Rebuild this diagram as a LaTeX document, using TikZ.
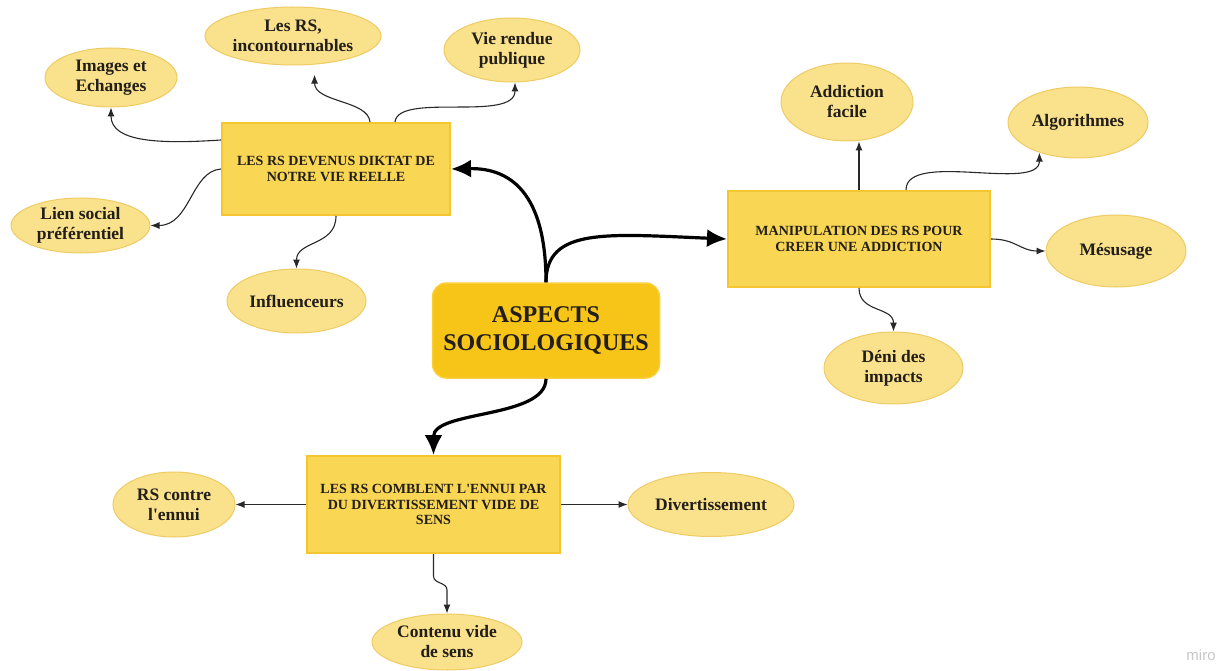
\documentclass[tikz,border=0pt]{standalone}
\usepackage{fontspec}
\setmainfont{Liberation Serif}
\newfontfamily\mirofont{Liberation Sans}
\usetikzlibrary{shapes.geometric,arrows.meta}
\definecolor{ellfill}{RGB}{250,225,140}
\definecolor{elldraw}{RGB}{238,203,100}
\definecolor{boxfill}{RGB}{249,214,84}
\definecolor{boxdraw}{RGB}{244,198,48}
\definecolor{cenfill}{RGB}{247,196,24}
\definecolor{cendraw}{RGB}{250,206,60}
\definecolor{txt}{RGB}{34,30,25}
\definecolor{wire}{RGB}{40,40,40}
\begin{document}
\begin{tikzpicture}[x=1pt,y=-1pt,
 bubble/.style={ellipse, draw=elldraw, fill=ellfill, line width=1pt, inner sep=0pt, align=center, text=txt, font=\fontsize{17.5}{20}\selectfont\bfseries},
 topic/.style={rectangle, draw=boxdraw, fill=boxfill, line width=2pt, inner sep=0pt, align=center, text=txt, font=\fontsize{14}{15.5}\selectfont\bfseries},
 hub/.style={rectangle, rounded corners=14pt, draw=cendraw, fill=cenfill, line width=1.5pt, inner sep=0pt, align=center, text=txt, font=\fontsize{24}{28}\selectfont\bfseries},
 sz/.style 2 args={minimum width=#1pt, minimum height=#2pt},
 thinarrow/.style={draw=wire, line width=1.1pt, -{Latex[length=9pt,width=7pt]}},
 thickarrow/.style={draw=black, line width=3.2pt, -{Latex[length=20pt,width=18pt]}}
]
\fill[white] (0,0) rectangle (1223,671);
\useasboundingbox (0,0) rectangle (1223,671);

% hub and topics
\node[hub, sz={227}{95}] (c) at (546,330.5) {ASPECTS\\SOCIOLOGIQUES};
\node[topic, sz={228}{92}] (b1) at (336,169) {LES RS DEVENUS DIKTAT DE\\NOTRE VIE REELLE};
\node[topic, sz={262}{96}] (b2) at (859,239) {MANIPULATION DES RS POUR\\CREER UNE ADDICTION};
\node[topic, sz={253}{97}] (b3) at (433.5,504.5) {LES RS COMBLENT L\textquotesingle ENNUI PAR\\DU DIVERTISSEMENT VIDE DE\\SENS};

% leaves
\node[bubble, sz={132}{59}] (imgs) at (111,77.5) {Images et\\Echanges};
\node[bubble, sz={176}{58}] (lesrs) at (293,36) {Les RS,\\incontournables};
\node[bubble, sz={136}{64}] (vie) at (512,50) {Vie rendue\\publique};
\node[bubble, sz={139}{55}] (lien) at (80.5,225.5) {Lien social\\préférentiel};
\node[bubble, sz={139}{64}] (infl) at (296.5,301) {Influenceurs};
\node[bubble, sz={132}{78}] (addf) at (847,102) {Addiction\\facile};
\node[bubble, sz={140}{71}] (algo) at (1078,122.5) {Algorithmes};
\node[bubble, sz={140}{72}] (mes) at (1116,251) {Mésusage};
\node[bubble, sz={139}{72}] (deni) at (893.5,368) {Déni des\\impacts};
\node[bubble, sz={122}{65}] (rsc) at (174,504.5) {RS contre\\l\textquotesingle ennui};
\node[bubble, sz={166}{64}] (div) at (711,504.5) {Divertissement};
\node[bubble, sz={150}{56}] (cont) at (447,642) {Contenu vide\\de sens};

% thick connectors
\draw[thickarrow] (c.north) .. controls +(0,-100) and +(50,-1) .. (b1.east);
\draw[thickarrow] (c.north) .. controls +(0,-55) and +(-120,-5) .. (b2.west);
\draw[thickarrow] (c.south) .. controls +(0,40) and +(0,-45) .. (b3.north);

% connectors of topic 1
\draw[thinarrow] ([yshift=29pt]b1.west) .. controls +(-60,4) and +(0,35) .. (imgs.south);
\draw[thinarrow] ([xshift=34pt]b1.north) .. controls +(-2,-22) and +(0,28) .. ([yshift=-10pt]lesrs.307);
\draw[thinarrow] ([xshift=59pt]b1.north) .. controls +(3,-30) and +(0,40) .. ([xshift=3pt]vie.south);
\draw[thinarrow] (b1.west) .. controls +(-30,2) and +(40,0) .. (lien.east);
\draw[thinarrow] (b1.south) .. controls +(0,30) and +(0,-28) .. (infl.north);

% connectors of topic 2
\draw[thinarrow] (b2.north) -- (b2.north |- addf.south);
\draw[thinarrow] ([xshift=47pt]b2.north) .. controls +(0,-40) and +(0,40) .. (algo.218);
\draw[thinarrow] (b2.east) .. controls +(25,0) and +(-25,0) .. (mes.west);
\draw[thinarrow] (b2.south) .. controls +(0,25) and +(0,-25) .. (deni.north);

% connectors of topic 3
\draw[thinarrow] (b3.west) -- (rsc.east);
\draw[thinarrow] (b3.east) -- (div.west);
\draw[thinarrow] (b3.south) -- ++(0,22) .. controls +(0,8) and +(0,-8) .. ++(13.5,14) -- (cont.north);

% watermark
\node[text=black!22, font=\mirofont\fontsize{15}{15}\selectfont, inner sep=0pt] (miro) at (1201,655) {miro};
\end{tikzpicture}
\end{document}
